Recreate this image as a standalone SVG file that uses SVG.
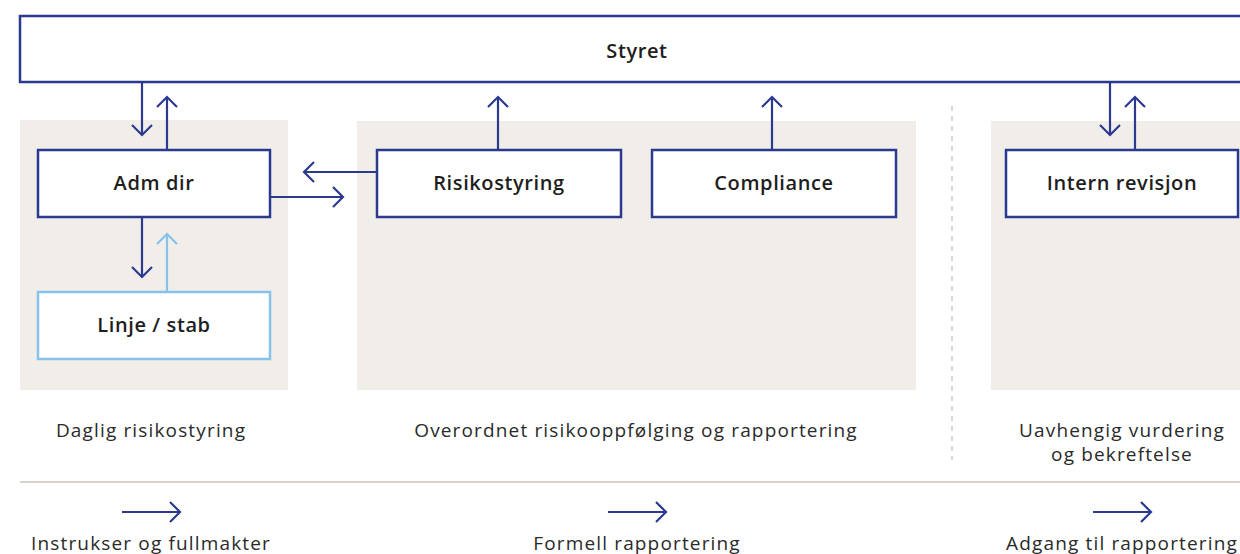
<svg xmlns="http://www.w3.org/2000/svg" width="1240" height="554" viewBox="0 0 1240 554">
<style>
.panel{fill:#f1eeea}
.box{fill:#fff;stroke:#2b3a8e;stroke-width:2.5}
.box.light{stroke:#88c1ea}
.lbl{font-family:"Open Sans","Liberation Sans",sans-serif;font-size:20px;font-weight:600;letter-spacing:0.6px;fill:#1e1e1e;text-anchor:middle}
.cap{font-family:"Open Sans","Liberation Sans",sans-serif;font-size:19px;letter-spacing:1.15px;fill:#2a2a2a;text-anchor:middle}
.con{stroke:#2b3a8e;stroke-width:2.2;fill:none;marker-end:url(#ah)}
.con.light{stroke:#88c1ea;marker-end:url(#ahl)}
</style>
<defs>
<marker id="ah" markerUnits="userSpaceOnUse" viewBox="-13 -12 15 24" markerWidth="15" markerHeight="24" refX="0" refY="0" orient="auto">
<path d="M-10,-10 L0,0 L-10,10" fill="none" stroke="#2b3a8e" stroke-width="2.2"/>
</marker>
<marker id="ahl" markerUnits="userSpaceOnUse" viewBox="-13 -12 15 24" markerWidth="15" markerHeight="24" refX="0" refY="0" orient="auto">
<path d="M-10,-10 L0,0 L-10,10" fill="none" stroke="#88c1ea" stroke-width="2.2"/>
</marker>
</defs>
<rect x="0" y="0" width="1240" height="554" fill="#fff"/>
<rect class="panel" x="20" y="120" width="268" height="270"/>
<rect class="panel" x="357" y="121" width="559" height="269"/>
<rect class="panel" x="991" y="121" width="260" height="269"/>
<line x1="952" y1="106" x2="952" y2="460" stroke="#cfcac3" stroke-width="1.5" stroke-dasharray="5,5"/>
<line x1="20" y1="482" x2="1240" y2="482" stroke="#d6d1c9" stroke-width="2"/>
<g id="styret"><rect class="box" x="20" y="16" width="1240" height="66"/><text class="lbl" x="637" y="58">Styret</text></g>
<g id="admdir"><rect class="box" x="38" y="150" width="232" height="67"/><text class="lbl" x="154" y="190">Adm dir</text></g>
<g id="linje"><rect class="box light" x="38" y="292" width="232" height="67"/><text class="lbl" x="154" y="332">Linje / stab</text></g>
<g id="risiko"><rect class="box" x="377" y="150" width="244" height="67"/><text class="lbl" x="499" y="190">Risikostyring</text></g>
<g id="compliance"><rect class="box" x="652" y="150" width="244" height="67"/><text class="lbl" x="774" y="190">Compliance</text></g>
<g id="intern"><rect class="box" x="1006" y="150" width="232" height="67"/><text class="lbl" x="1122" y="190">Intern revisjon</text></g>
<g id="connectors">
<line class="con" x1="142" y1="82" x2="142" y2="135"/>
<line class="con" x1="167" y1="150" x2="167" y2="97"/>
<line class="con" x1="142" y1="217" x2="142" y2="277"/>
<line class="con light" x1="167" y1="292" x2="167" y2="234"/>
<line class="con" x1="377" y1="172" x2="304" y2="172"/>
<line class="con" x1="270" y1="197" x2="343" y2="197"/>
<line class="con" x1="498" y1="150" x2="498" y2="97"/>
<line class="con" x1="772" y1="150" x2="772" y2="97"/>
<line class="con" x1="1110" y1="82" x2="1110" y2="135"/>
<line class="con" x1="1135" y1="150" x2="1135" y2="97"/>
</g>
<g id="captions">
<text class="cap" x="151" y="437">Daglig risikostyring</text>
<text class="cap" x="636" y="437">Overordnet risikooppfølging og rapportering</text>
<text class="cap" x="1122" y="437">Uavhengig vurdering</text>
<text class="cap" x="1122" y="461">og bekreftelse</text>
</g>
<g id="legend">
<line class="con" x1="122" y1="512" x2="180" y2="512"/>
<line class="con" x1="608" y1="512" x2="666" y2="512"/>
<line class="con" x1="1093" y1="512" x2="1151" y2="512"/>
<text class="cap" x="151" y="550">Instrukser og fullmakter</text>
<text class="cap" x="637" y="550">Formell rapportering</text>
<text class="cap" x="1122" y="550">Adgang til rapportering</text>
</g>
</svg>
